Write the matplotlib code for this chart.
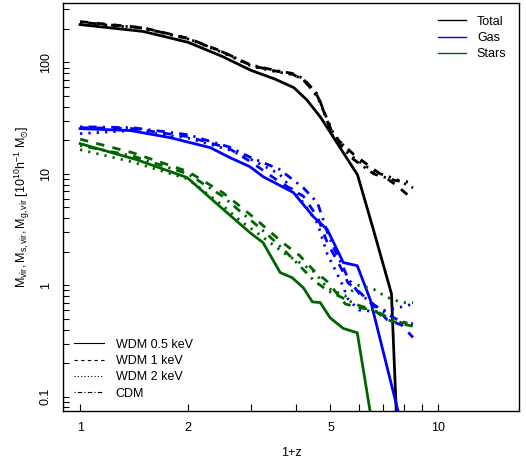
import matplotlib
matplotlib.use("Agg")
import matplotlib.pyplot as plt
from matplotlib.lines import Line2D
from matplotlib.ticker import FixedLocator, NullFormatter

plt.rcParams['font.family'] = ['Liberation Sans', 'DejaVu Sans']
plt.rcParams['mathtext.fontset'] = 'custom'
plt.rcParams['mathtext.rm'] = 'Liberation Sans'
plt.rcParams['mathtext.it'] = 'Liberation Sans'

# ---- data (1+z vs mass in 1e10 h^-1 Msun) ----
# WDM 0.5 keV
total_x05 = [1.0, 1.5, 2.0, 2.5, 3.0, 3.5, 3.95, 4.3, 4.7, 5.3, 5.95, 6.6, 7.4, 7.67]
total_05 = [219, 190, 152, 113, 85, 71, 59.5, 46, 32, 17.5, 9.8, 3.1, 0.84, 0.05]
gas_x05 = [1.0, 1.38, 1.78, 2.31, 2.62, 2.98, 3.24, 3.94, 4.48, 4.9, 5.43, 5.94, 6.46, 7.96]
gas_05 = [25.5, 24.5, 21.2, 17.2, 14.0, 11.6, 9.46, 6.8, 4.13, 3.16, 1.60, 1.50, 0.74, 0.05]
stars_x05 = [1.0, 1.44, 1.99, 2.46, 2.98, 3.24, 3.62, 3.91, 4.2, 4.45, 4.68, 4.99, 5.43, 5.94, 6.58]
stars_05 = [18.7, 13.4, 9.27, 5.08, 2.97, 2.42, 1.30, 1.17, 0.95, 0.71, 0.70, 0.51, 0.41, 0.375, 0.05]

# WDM 1 keV, WDM 2 keV, CDM
total_x = [1.0, 1.5, 2.0, 2.5, 3.0, 3.5, 3.9, 4.2, 4.6, 5.1, 5.8, 6.6, 7.6, 8.5]
total_1 = [233, 205, 165, 125, 94, 84, 79, 70, 50, 22, 15, 11, 8.0, 5.9]
total_2 = [228, 203, 163, 123, 93, 83, 78, 71, 49, 23, 14, 10.5, 9.0, 7.5]
total_cdm = [230, 204, 164, 124, 95, 85, 80, 72, 52, 21, 13.5, 10, 8.7, 8.4]

gas_x = [1.0, 1.4, 2.0, 2.6, 3.0, 3.6, 4.2, 4.6, 4.9, 5.2, 5.4, 5.6, 6.0, 6.7, 7.2, 7.9, 8.5]
gas_1 = [26, 25.5, 21.6, 17, 12.8, 8.5, 6.3, 4.1, 2.41, 1.7, 1.35, 1.05, 0.88, 0.63, 0.49, 0.44, 0.34]
gas_2 = [23, 24.5, 21, 16.5, 13.5, 10, 5.5, 3.6, 1.9, 1.3, 1.01, 0.75, 0.6, 0.58, 0.6, 0.64, 0.68]
gas_cdm = [26.5, 26, 22.5, 17.5, 14, 11, 7.5, 5.5, 3.0, 1.9, 1.5, 1.15, 0.85, 0.65, 0.55, 0.47, 0.45]

stars_x = [1.0, 1.4, 2.0, 2.5, 2.8, 3.1, 3.4, 3.75, 4.1, 4.5, 4.9, 5.5, 6.0, 6.6, 7.2, 7.9, 8.5]
stars_1 = [20.5, 15.5, 10.5, 6.8, 5.1, 3.9, 3.0, 2.3, 1.85, 1.35, 1.08, 0.68, 0.63, 0.6, 0.49, 0.45, 0.43]
stars_2 = [16.5, 12.8, 9.0, 5.2, 3.8, 3.0, 2.4, 1.9, 1.6, 1.32, 0.95, 0.8, 1.0, 0.92, 0.78, 0.70, 0.70]
stars_cdm = [18, 14.5, 10.0, 6.3, 4.6, 3.5, 2.7, 2.0, 1.5, 1.1, 0.9, 0.75, 0.66, 0.6, 0.52, 0.46, 0.46]

BLACK = 'black'
BLUE = '#0000ff'
GREEN = '#006400'

DASHED = (0, (3, 3))
DOTTED = (0, (0.8, 2.2))
DASHDOT = (0, (0.8, 2.2, 3, 2.2))

fig = plt.figure(figsize=(5.26, 4.63), dpi=100)
ax = fig.add_axes([0.1198, 0.1123, 0.8669, 0.8812])

lw = 2.0
# WDM 0.5 keV, solid
ax.plot(total_x05, total_05, color=BLACK, lw=lw)
ax.plot(gas_x05, gas_05, color=BLUE, lw=lw)
ax.plot(stars_x05, stars_05, color=GREEN, lw=lw)
# the other three models
ax.plot(total_x, total_1, color=BLACK, lw=lw, ls=DASHED)
ax.plot(total_x, total_2, color=BLACK, lw=lw, ls=DOTTED)
ax.plot(total_x, total_cdm, color=BLACK, lw=lw, ls=DASHDOT)
ax.plot(gas_x, gas_1, color=BLUE, lw=lw, ls=DASHED)
ax.plot(gas_x, gas_2, color=BLUE, lw=lw, ls=DOTTED)
ax.plot(gas_x, gas_cdm, color=BLUE, lw=lw, ls=DASHDOT)
ax.plot(stars_x, stars_1, color=GREEN, lw=lw, ls=DASHED)
ax.plot(stars_x, stars_2, color=GREEN, lw=lw, ls=DOTTED)
ax.plot(stars_x, stars_cdm, color=GREEN, lw=lw, ls=DASHDOT)

ax.set_xscale('log')
ax.set_yscale('log')
ax.set_xlim(0.896, 16.8)
ax.set_ylim(0.0744, 342)

ax.xaxis.set_major_locator(FixedLocator([1, 2, 5, 10]))
ax.set_xticklabels(['1', '2', '5', '10'])
ax.xaxis.set_minor_locator(FixedLocator([3, 4, 6, 7, 8, 9]))
ax.xaxis.set_minor_formatter(NullFormatter())

ax.yaxis.set_major_locator(FixedLocator([0.1, 1, 10, 100]))
ax.set_yticklabels(['0.1', '1', '10', '100'], rotation=90, va='center')
yminor = [m * d for d in [0.01, 0.1, 1, 10, 100] for m in range(2, 10)]
ax.yaxis.set_minor_locator(FixedLocator(yminor))
ax.yaxis.set_minor_formatter(NullFormatter())

ax.tick_params(axis='both', which='both', direction='in', width=0.8, labelsize=9)
ax.tick_params(axis='x', which='both', length=5, pad=8)
ax.tick_params(axis='y', which='both', length=4, pad=8)
for sp in ax.spines.values():
    sp.set_linewidth(1.0)

ax.set_xlabel('1+z', fontsize=9, labelpad=9)
ax.set_ylabel(r'$\mathregular{M_{vir},M_{s,vir},M_{g,vir}\ [10^{10}h^{-1}\ M_{\odot}]}$',
              fontsize=9, labelpad=6)

comp_handles = [Line2D([], [], color=c, lw=1) for c in [BLACK, BLUE, GREEN]]
leg1 = ax.legend(comp_handles, ['Total', 'Gas', 'Stars'], loc='upper right', frameon=False,
                 fontsize=9, handlelength=2.2, handletextpad=0.9, labelspacing=0.35,
                 borderaxespad=0.6)
ax.add_artist(leg1)

model_handles = [Line2D([], [], color=BLACK, lw=0.8, ls=s)
                 for s in ['-', (0, (3, 3)), (0, (1, 2)), (0, (1, 2, 4, 2))]]
ax.legend(model_handles, ['WDM 0.5 keV', 'WDM 1 keV', 'WDM 2 keV', 'CDM'], loc='lower left',
          frameon=False, fontsize=9, handlelength=2.4, handletextpad=0.9, labelspacing=0.35,
          borderaxespad=0.5)

fig.savefig('out.png', dpi=100)
